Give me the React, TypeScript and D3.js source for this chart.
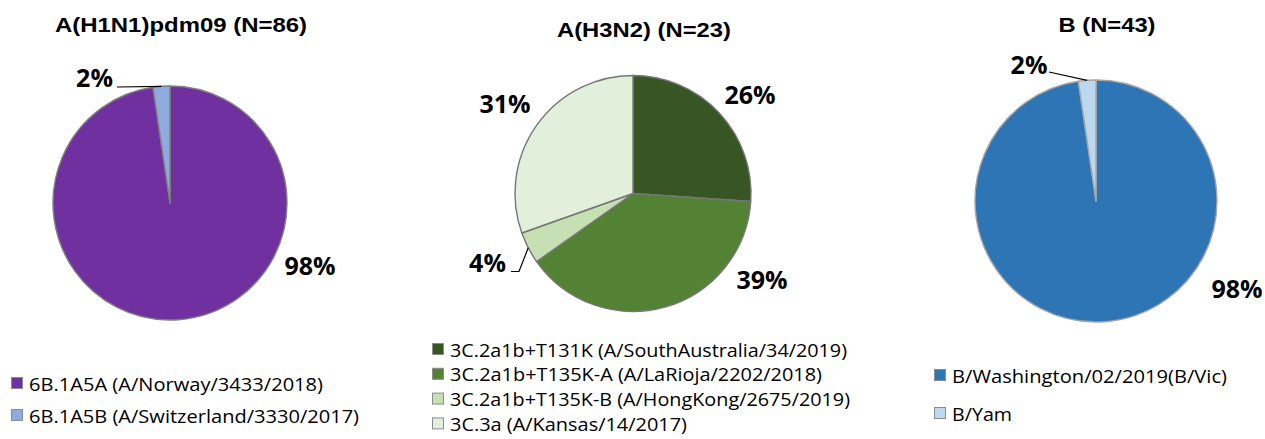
import React from 'react';
import * as d3 from 'd3';

// --- data ---
const h1Title = 'A(H1N1)pdm09 (N=86)';
const h1Labels = ['6B.1A5A (A/Norway/3433/2018)', '6B.1A5B (A/Switzerland/3330/2017)'];
const h1Counts = [84, 2];
const h1Colors = ['#7030a0', '#8faadc'];

const h3Title = 'A(H3N2) (N=23)';
const h3Labels = [
  '3C.2a1b+T131K (A/SouthAustralia/34/2019)',
  '3C.2a1b+T135K-A (A/LaRioja/2202/2018)',
  '3C.2a1b+T135K-B (A/HongKong/2675/2019)',
  '3C.3a (A/Kansas/14/2017)',
];
const h3Counts = [6, 9, 1, 7];
const h3Colors = ['#375623', '#548235', '#c6e0b4', '#e2efda'];

const bTitle = 'B (N=43)';
const bLabels = ['B/Washington/02/2019(B/Vic)', 'B/Yam'];
const bCounts = [42, 1];
const bColors = ['#2e75b6', '#bdd7ee'];

// --- layout ---
const W = 1265;
const H = 439;

type Panel = {
  title: string;
  labels: string[];
  counts: number[];
  colors: string[];
  cx: number;
  cy: number;
  r: number;
  stroke: string;
  titleY: number;
  titleW: number;
  // percentage label spots, relative to the pie centre, plus optional leader bends
  pct: { dx: number; dy: number; leader?: [number, number][] }[];
  legend: { x: number; y: number; step: number; widths: number[] };
};

const panels: Panel[] = [
  {
    title: h1Title, labels: h1Labels, counts: h1Counts, colors: h1Colors,
    cx: 170, cy: 203, r: 117, stroke: '#7f7f7f', titleY: 32, titleW: 252,
    pct: [
      { dx: 140, dy: 72 },
      { dx: -75.5, dy: -116, leader: [[-53, -116]] },
    ],
    legend: { x: 11, y: 377, step: 32, widths: [294, 330] },
  },
  {
    title: h3Title, labels: h3Labels, counts: h3Counts, colors: h3Colors,
    cx: 633, cy: 193.5, r: 118, stroke: '#767676', titleY: 37, titleW: 174,
    pct: [
      { dx: 117, dy: -89.5 },
      { dx: 129, dy: 95.5 },
      { dx: -145.5, dy: 78.5, leader: [[-122, 78], [-114, 78]] },
      { dx: -128, dy: -80.5 },
    ],
    legend: { x: 432, y: 343, step: 24.8, widths: [397, 372, 400, 237] },
  },
  {
    title: bTitle, labels: bLabels, counts: bCounts, colors: bColors,
    cx: 1096, cy: 201, r: 121, stroke: '#a6a6a6', titleY: 32, titleW: 97,
    pct: [
      { dx: 141, dy: 97 },
      { dx: -67, dy: -127, leader: [[-47, -129]] },
    ],
    legend: { x: 934, y: 369, step: 38, widths: [275, 60] },
  },
];

// Excel-style percentages that add up to 100 (largest remainder)
function pctLabels(counts: number[]): string[] {
  const total = d3.sum(counts);
  const raw = counts.map((c) => (c / total) * 100);
  const fl = raw.map(Math.floor);
  const rem = 100 - d3.sum(fl);
  const order = d3.range(counts.length).sort((a, b) => raw[b] - fl[b] - (raw[a] - fl[a]));
  for (let i = 0; i < rem; i++) fl[order[i]]++;
  return fl.map((v) => `${v}%`);
}

const pieGen = d3.pie<number>().sort(null).value((d) => d);

function PiePanel({ p }: { p: Panel }) {
  const arcs = pieGen(p.counts);
  const arc = d3.arc<d3.PieArcDatum<number>>().innerRadius(0).outerRadius(p.r);
  const pcts = pctLabels(p.counts);
  const line = d3.line();
  const mSize = 11;

  return (
    <g>
      <text
        x={p.cx + 11 - p.titleW / 2}
        y={p.titleY}
        textLength={p.titleW}
        lengthAdjust="spacingAndGlyphs"
        fontFamily="'Liberation Sans', Arial, sans-serif"
        fontWeight="bold"
        fontSize={19.5}
        fill="#000"
      >
        {p.title}
      </text>

      <g transform={`translate(${p.cx},${p.cy})`}>
        {arcs.map((a, i) => (
          <path key={i} d={arc(a) ?? ''} fill={p.colors[i]} stroke={p.stroke} strokeWidth={1.4} strokeLinejoin="round" />
        ))}
        {arcs.map((a, i) => {
          const spot = p.pct[i];
          const mid = (a.startAngle + a.endAngle) / 2;
          const end = d3.pointRadial(mid, p.r);
          return (
            <g key={i}>
              {spot.leader && (
                <path d={line([...spot.leader, end]) ?? ''} fill="none" stroke="#000" strokeWidth={1.2} />
              )}
              <text
                x={spot.dx}
                y={spot.dy}
                textAnchor="middle"
                fontFamily="'Open Sans', sans-serif"
                fontWeight="bold"
                fontSize={25}
                fill="#000"
              >
                {pcts[i]}
              </text>
            </g>
          );
        })}
      </g>

      {p.labels.map((lab, i) => {
        const y0 = p.legend.y + i * p.legend.step;
        return (
          <g key={lab}>
            <rect x={p.legend.x + 0.5} y={y0 + 0.5} width={mSize} height={mSize} fill={p.colors[i]} stroke="#8c8c8c" strokeWidth={1} />
            <text
              x={p.legend.x + 18}
              y={y0 + 13.5}
              textLength={p.legend.widths[i]}
              lengthAdjust="spacingAndGlyphs"
              fontFamily="'Open Sans', sans-serif"
              fontSize={19}
              fill="#000"
            >
              {lab}
            </text>
          </g>
        );
      })}
    </g>
  );
}

export default function App() {
  return (
    <svg width={W} height={H} style={{ position: 'absolute', left: 0, top: 0, background: '#fff' }}>
      {panels.map((p) => (
        <PiePanel key={p.title} p={p} />
      ))}
    </svg>
  );
}
